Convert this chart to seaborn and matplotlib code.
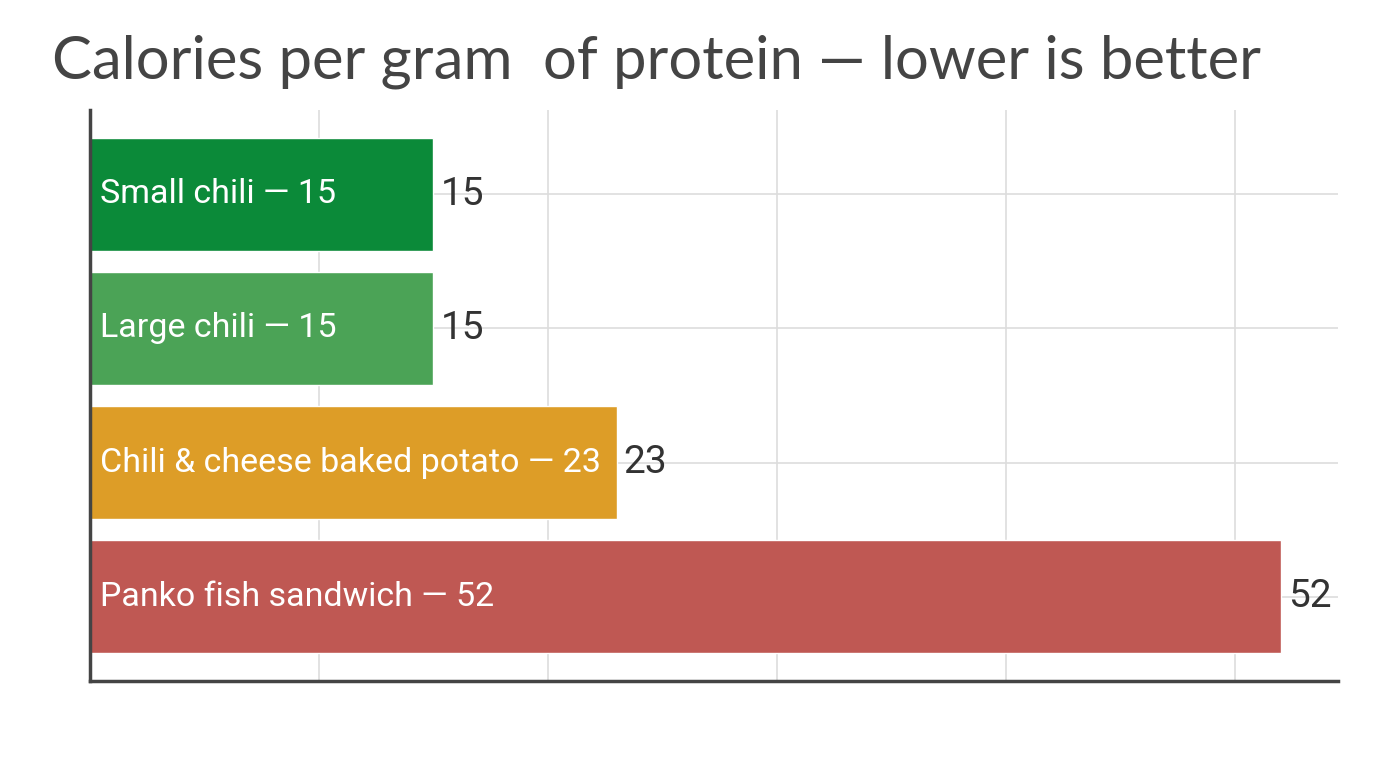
import matplotlib
matplotlib.use("Agg")
import matplotlib.pyplot as plt
from matplotlib import font_manager
import seaborn as sns
import pandas as pd

items = ["Small chili", "Large chili", "Chili & cheese baked potato", "Panko fish sandwich"]
calories_per_gram_protein = [15, 15, 23, 52]
title_text = "Calories per gram  of protein — lower is better"

palette = {
    "Small chili": "#0b8a39",
    "Large chili": "#4ba356",
    "Chili & cheese baked potato": "#dd9d27",
    "Panko fish sandwich": "#bf5853",
}

df = pd.DataFrame({"item": items, "value": calories_per_gram_protein})

sns.set_theme(style="white")
plt.rcParams["font.family"] = ["Roboto", "DejaVu Sans"]

names = {f.name for f in font_manager.fontManager.ttflist}
narrow = "Liberation Sans Narrow" in names
inner_family = ["Liberation Sans Narrow", "Roboto"] if narrow else ["Roboto", "DejaVu Sans"]
inner_size = 28 if narrow else 24.5

fig = plt.figure(figsize=(13.76, 7.68), dpi=100)
ax = fig.add_axes([90 / 1376, 1 - 681 / 768, (1338 - 90) / 1376, (681 - 110) / 768])

sns.barplot(data=df, y="item", x="value", hue="item", palette=palette, orient="h",
            width=0.84, dodge=False, legend=False, ax=ax, saturation=1, zorder=2)

ax.set_xlim(0, 54.5)
ax.set_ylim(3.63, -0.63)
ax.set_xticks([10, 20, 30, 40, 50])
ax.set_xticklabels([])
ax.set_yticks(range(len(items)))
ax.set_yticklabels([])
ax.tick_params(length=0)
ax.set_xlabel("")
ax.set_ylabel("")
ax.grid(True, color="#dddddd", linewidth=1.2, zorder=0)
ax.set_axisbelow(True)
for s in ["top", "right"]:
    ax.spines[s].set_visible(False)
for s in ["left", "bottom"]:
    ax.spines[s].set_color("#444444")
    ax.spines[s].set_linewidth(2.5)

for i, (name, v) in enumerate(zip(items, calories_per_gram_protein)):
    ax.text(0.45, i, f"{name} — {v}", color="white", fontsize=inner_size, va="center", ha="left",
            family=inner_family, zorder=3)
    ax.text(v + 0.3, i, f"{v}", color="#333333", fontsize=28, va="center", ha="left", zorder=3)

fig.text(52 / 1376, 1 - 62 / 768, title_text, fontsize=43, color="#444444",
         family=["Lato", "DejaVu Sans"], va="center", ha="left")

fig.savefig("out.png", dpi=100, facecolor="white")
